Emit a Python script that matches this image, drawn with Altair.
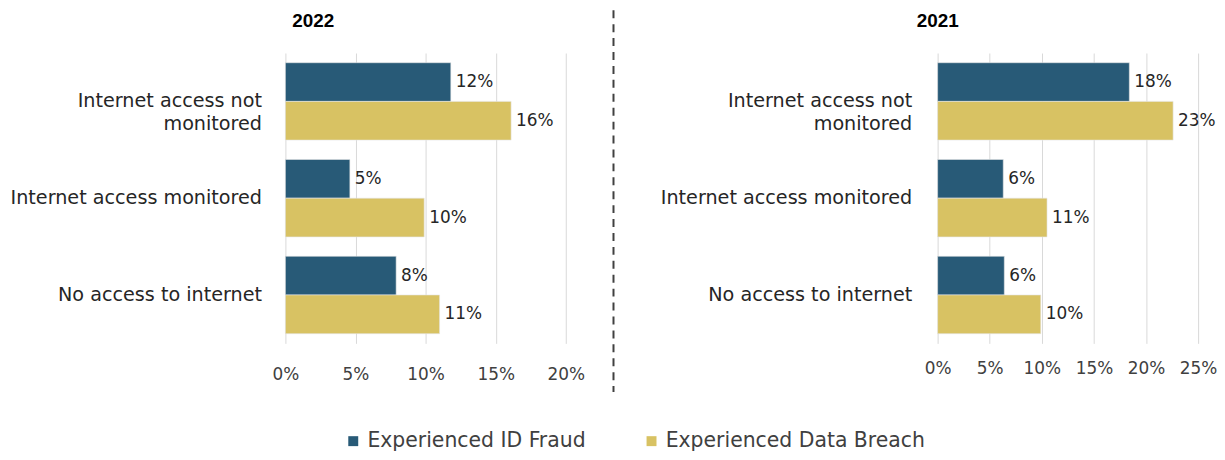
import altair as alt
import pandas as pd

categories = ["Internet access not monitored", "Internet access monitored", "No access to internet"]
series = ["Experienced ID Fraud", "Experienced Data Breach"]
fraud_2022 = [11.8, 4.6, 7.9]
breach_2022 = [16.1, 9.9, 11.0]
fraud_2021 = [18.4, 6.3, 6.4]
breach_2021 = [22.6, 10.5, 9.9]
ticks_2022 = [0, 5, 10, 15, 20]
ticks_2021 = [0, 5, 10, 15, 20, 25]
colors = ["#285a77", "#d8c263"]

rows = []
for year, fr, br in [("2022", fraud_2022, breach_2022), ("2021", fraud_2021, breach_2021)]:
    for c, f, b in zip(categories, fr, br):
        rows.append({"year": year, "category": c, "series": series[0], "value": f})
        rows.append({"year": year, "category": c, "series": series[1], "value": b})
df = pd.DataFrame(rows)

FONT = "DejaVu Sans"
NBSP = "\u00a0"
label_expr = (
    "datum.value == 'Internet access not monitored' ? ['Internet access not', 'monitored'] : "
    "datum.value == 'No access to internet' ? 'No access to internet" + NBSP + "' : datum.value"
)


def panel(year, ticks, width, title_dx, label_pad, x_label_pad):
    base = (
        alt.Chart(df)
        .transform_filter(alt.datum.year == year)
        .transform_calculate(label="round(datum.value) + '%'")
    )
    y = alt.Y(
        "category:N", sort=categories, title=None,
        scale=alt.Scale(paddingInner=0.2, paddingOuter=0.1),
        axis=alt.Axis(labelExpr=label_expr, labelFontSize=19.3, labelFont=FONT,
                      labelColor="#262626", labelPadding=label_pad, labelLineHeight=23,
                      ticks=False, domain=False, labelLimit=400),
    )
    x = alt.X(
        "value:Q", title=None,
        scale=alt.Scale(domain=[0, ticks[-1]], nice=False),
        axis=alt.Axis(values=ticks, labelExpr="datum.value + '%'", grid=True,
                      gridColor="#d9d9d9", gridWidth=1, ticks=False, domain=False,
                      labelFontSize=17, labelFont=FONT, labelColor="#404040",
                      labelPadding=x_label_pad, labelOverlap=False, labelFlush=False),
    )
    yo = alt.YOffset("series:N", sort=series, scale=alt.Scale(paddingInner=0, paddingOuter=0))
    color = alt.Color(
        "series:N", sort=series,
        scale=alt.Scale(domain=series, range=colors),
        legend=alt.Legend(orient="none", legendX=58, legendY=380, direction="horizontal",
                          title=None, symbolType="square", symbolSize=100,
                          symbolStrokeWidth=0, labelFontSize=20.5, labelFont=FONT,
                          labelColor="#404040", labelOffset=4, columnPadding=56,
                          padding=0, labelLimit=400),
    )
    bars = base.mark_bar(stroke="#e6e6e6", strokeWidth=0.6).encode(
        x=x, y=y, yOffset=yo, color=color
    )
    text = base.mark_text(align="left", dx=5, fontSize=17, font=FONT, color="#262626").encode(
        x=x, y=y, yOffset=yo, text="label:N"
    )
    return alt.layer(bars, text).properties(
        width=width, height=292,
        title=alt.TitleParams(year, anchor="start", frame="group", dx=title_dx, offset=22,
                              fontSize=19, font="Liberation Sans", fontWeight="bold",
                              color="black"),
    )


left = panel("2022", ticks_2022, 282, 7, 24, 23)
right = panel("2021", ticks_2021, 262, -21, 26, 17)

divider = (
    alt.Chart(pd.DataFrame({"d": [0]}))
    .mark_rule(color="#404040", strokeWidth=2, strokeDash=[8, 6])
    .encode(x=alt.value(0), y=alt.value(-43), y2=alt.value(341))
    .properties(width=278, height=292)
)

chart = (
    alt.hconcat(left, divider, right, spacing=48, bounds="flush")
    .properties(padding={"left": 2, "top": 0, "right": 0, "bottom": 0})
    .configure_view(stroke=None)
)

chart.save("out.html", embed_options={"renderer": "svg", "actions": False})
